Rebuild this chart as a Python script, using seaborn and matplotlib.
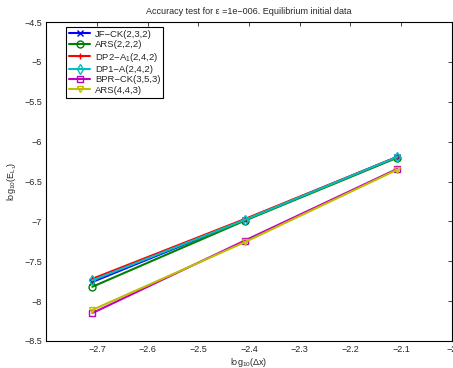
import matplotlib
matplotlib.use("Agg")
import matplotlib.pyplot as plt
import seaborn as sns
import pandas as pd

x_vals = [-2.709, -2.408, -2.107]
jfck_232 = [-7.76, -6.98, -6.19]
ars_222 = [-7.82, -6.99, -6.20]
dp2a1_242 = [-7.72, -6.97, -6.19]
dp1a_242 = [-7.74, -6.98, -6.19]
bprck_353 = [-8.15, -7.24, -6.34]
ars_443 = [-8.11, -7.26, -6.35]

labels = ["JF\u2212CK(2,3,2)", "ARS(2,2,2)", "DP2\u2212A$_1$(2,4,2)",
          "DP1\u2212A(2,4,2)", "BPR\u2212CK(3,5,3)", "ARS(4,4,3)"]
series = [jfck_232, ars_222, dp2a1_242, dp1a_242, bprck_353, ars_443]
colors = [(0, 0, 1), (0, 0.5, 0), (1, 0, 0), (0, 0.75, 0.75), (0.75, 0, 0.75), (0.75, 0.75, 0)]
markers = ["x", "o", "+", "d", "s", "v"]

sns.set_style("white")
plt.rcParams["font.family"] = ["Liberation Sans", "DejaVu Sans"]
plt.rcParams["mathtext.default"] = "regular"

fig = plt.figure(figsize=(4.53, 3.68), dpi=100)
ax = fig.add_axes([0.102, 0.0734, 0.895, 0.8666])

for lab, ys, c, m in zip(labels, series, colors, markers):
    df = pd.DataFrame({"x": x_vals, "y": ys})
    sns.lineplot(data=df, x="x", y="y", ax=ax, color=c, marker=m, markersize=5,
                 linewidth=1.5, label=lab, markerfacecolor="none",
                 markeredgecolor=c, markeredgewidth=1.0)

ax.set_xlim(-2.8, -2.0)
ax.set_ylim(-8.5, -4.5)
ax.set_xticks([-2.7, -2.6, -2.5, -2.4, -2.3, -2.2, -2.1, -2.0])
ax.set_xticklabels(["\u22122.7", "\u22122.6", "\u22122.5", "\u22122.4", "\u22122.3", "\u22122.2", "\u22122.1", "\u22122"])
yt = [-8.5, -8, -7.5, -7, -6.5, -6, -5.5, -5, -4.5]
ax.set_yticks(yt)
ax.set_yticklabels([("\u2212%g" % abs(v)) for v in yt])
ax.tick_params(direction="in", length=3, width=0.6, labelsize=6.5, top=True, right=True, pad=3)
for s in ax.spines.values():
    s.set_color("black")
    s.set_linewidth(0.8)

ax.set_title("Accuracy test for \u03b5 =1e\u2212006. Equilibrium initial data", fontsize=6.5, pad=6)
ax.set_xlabel("log$_{10}$(\u0394x)", fontsize=6.5, labelpad=1)
ax.set_ylabel("log$_{10}$(E$_{L_1}$)", fontsize=6.5, labelpad=4)

leg = ax.legend(loc="upper left", bbox_to_anchor=(0.05, 0.985), fontsize=6.8, frameon=True,
                fancybox=False, edgecolor="black", framealpha=1, borderpad=0.3,
                labelspacing=0.15, handlelength=2.2, handletextpad=0.5, borderaxespad=0)
leg.get_frame().set_linewidth(0.8)

fig.savefig("out.png", dpi=100)
